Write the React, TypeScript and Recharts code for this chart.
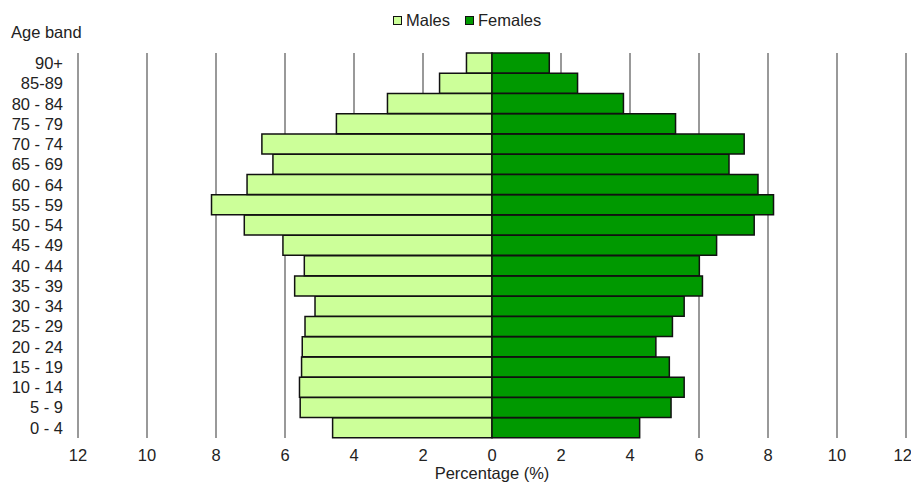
import { BarChart, Bar, XAxis, YAxis, CartesianGrid } from "recharts";

const ageBands = [
  "0 - 4", "5 - 9", "10 - 14", "15 - 19", "20 - 24", "25 - 29", "30 - 34",
  "35 - 39", "40 - 44", "45 - 49", "50 - 54", "55 - 59", "60 - 64", "65 - 69",
  "70 - 74", "75 - 79", "80 - 84", "85-89", "90+",
];
const males = [4.62, 5.56, 5.58, 5.52, 5.5, 5.42, 5.13, 5.72, 5.44, 6.06, 7.18, 8.13, 7.1, 6.35, 6.67, 4.51, 3.03, 1.52, 0.74];
const females = [4.28, 5.19, 5.57, 5.14, 4.75, 5.23, 5.57, 6.1, 6.01, 6.51, 7.6, 8.16, 7.71, 6.87, 7.31, 5.32, 3.81, 2.48, 1.66];
const xTicks = [-12, -10, -8, -6, -4, -2, 0, 2, 4, 6, 8, 10, 12];

const MALE_COLOR = "#ccff99";
const FEMALE_COLOR = "#009900";
const FONT = "'Liberation Sans', Arial, sans-serif";

const data = ageBands.map((band, i) => ({
  band,
  males: -males[i],
  females: females[i],
}));

function LegendItem({ color, text }: { color: string; text: string }) {
  return (
    <div style={{ display: "flex", alignItems: "center" }}>
      <span
        style={{
          width: 7,
          height: 7,
          background: color,
          border: "1.5px solid #111",
          marginRight: 4,
        }}
      />
      <span>{text}</span>
    </div>
  );
}

export default function App() {
  return (
    <div style={{ position: "relative", width: 903, height: 476, fontFamily: FONT }}>
      <div
        style={{
          position: "absolute",
          left: 385,
          top: 3,
          display: "flex",
          gap: 15,
          fontSize: 16.5,
          color: "#222",
        }}
      >
        <LegendItem color={MALE_COLOR} text="Males" />
        <LegendItem color={FEMALE_COLOR} text="Females" />
      </div>
      <div style={{ position: "absolute", left: 3, top: 15, fontSize: 16.5, color: "#222" }}>
        Age band
      </div>
      <div
        style={{
          position: "absolute",
          left: 70,
          width: 828,
          top: 457,
          textAlign: "center",
          fontSize: 16.5,
          lineHeight: "16.5px",
          color: "#222",
        }}
      >
        Percentage (%)
      </div>
      <BarChart
        width={903}
        height={476}
        data={data}
        layout="vertical"
        stackOffset="sign"
        barCategoryGap={0}
        margin={{ top: 45, right: 5, bottom: 0, left: 0 }}
      >
        <CartesianGrid horizontal={false} stroke="#999" strokeWidth={2} />
        <XAxis
          type="number"
          domain={[-12, 12]}
          ticks={xTicks}
          tickFormatter={(v: number) => String(Math.abs(v))}
          axisLine={false}
          tickLine={false}
          tickMargin={5}
          height={46}
          tick={{ fontSize: 16.5, fill: "#222", fontFamily: FONT }}
        />
        <YAxis
          type="category"
          dataKey="band"
          reversed
          interval={0}
          width={70}
          axisLine={false}
          tickLine={false}
          tickMargin={9}
          tick={{ fontSize: 16.5, fill: "#222", fontFamily: FONT }}
        />
        <Bar dataKey="males" stackId="a" fill={MALE_COLOR} stroke="#111" strokeWidth={1.5} isAnimationActive={false} />
        <Bar dataKey="females" stackId="a" fill={FEMALE_COLOR} stroke="#111" strokeWidth={1.5} isAnimationActive={false} />
      </BarChart>
    </div>
  );
}
